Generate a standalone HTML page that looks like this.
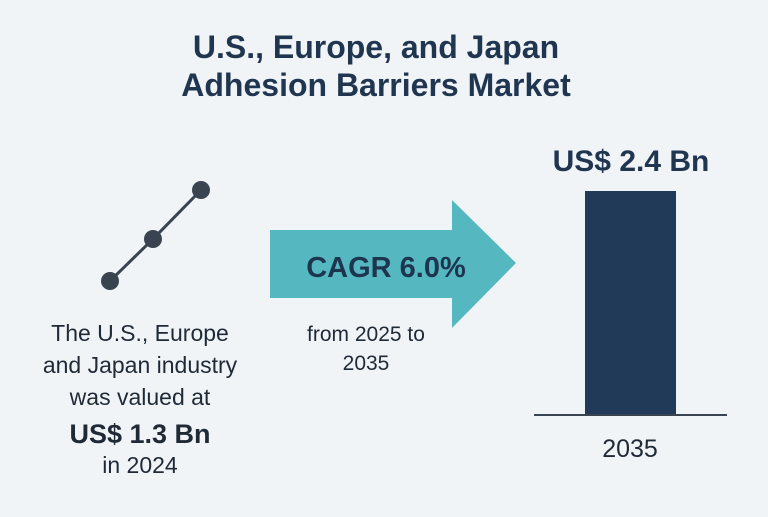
<!DOCTYPE html>
<html><head><meta charset="utf-8"><style>
body{margin:0;width:768px;height:512px;background:#f1f4f7;overflow:hidden;font-family:"Liberation Sans",sans-serif;}
svg text{font-family:"Liberation Sans",sans-serif;}
</style></head><body>
<svg width="768" height="512">
<g fill="#1f3550" font-weight="bold" font-size="32" text-anchor="middle">
<text x="376" y="58">U.S., Europe, and Japan</text>
<text x="376" y="96">Adhesion Barriers Market</text>
</g>
<g>
<polyline points="110,281 153,239 201,190" fill="none" stroke="#3a4450" stroke-width="3"/>
<circle cx="110" cy="281" r="9" fill="#3a4450"/>
<circle cx="153" cy="239" r="9" fill="#3a4450"/>
<circle cx="201" cy="190" r="9" fill="#3a4450"/>
</g>
<g fill="#1f2a36" font-size="23" text-anchor="middle">
<text x="140" y="341">The U.S., Europe</text>
<text x="140" y="373">and Japan industry</text>
<text x="140" y="405">was valued at</text>
<text x="140" y="443" font-weight="bold" font-size="27">US$ 1.3 Bn</text>
<text x="140" y="473">in 2024</text>
</g>
<polygon points="270,230 452,230 452,200 516,263 452,328 452,298 270,298" fill="#55b7c0"/>
<text x="386" y="277" text-anchor="middle" font-size="29" font-weight="bold" fill="#1e3550">CAGR 6.0%</text>
<g fill="#1f2a36" font-size="21" text-anchor="middle">
<text x="366" y="341">from 2025 to</text>
<text x="366" y="370">2035</text>
</g>
<g id="bars"></g>
<line x1="534" y1="415" x2="727" y2="415" stroke="#3a4450" stroke-width="2"/>
</svg>
<script>
const categories = ["2035"];
const values = [2.4];
const labels = ["US$ 2.4 Bn"];
const g = document.getElementById('bars');
const ns = 'http://www.w3.org/2000/svg';
const y = v => 415 - v * (224 / 2.4);
categories.forEach((c, i) => {
  const r = document.createElementNS(ns, 'rect');
  r.setAttribute('x', 585); r.setAttribute('width', 91);
  r.setAttribute('y', y(values[i])); r.setAttribute('height', 415 - y(values[i]));
  r.setAttribute('fill', '#213a58');
  
  
  g.appendChild(r);
  const t = document.createElementNS(ns, 'text');
  t.setAttribute('x', 631); t.setAttribute('y', y(values[i]) - 20);
  t.setAttribute('text-anchor', 'middle'); t.setAttribute('font-size', '30');
  t.setAttribute('font-weight', 'bold'); t.setAttribute('fill', '#1f3550');
  t.textContent = labels[i];
  
  
  g.appendChild(t);
  const c2 = document.createElementNS(ns, 'text');
  c2.setAttribute('x', 630); c2.setAttribute('y', 457);
  c2.setAttribute('text-anchor', 'middle'); c2.setAttribute('font-size', '25');
  c2.setAttribute('fill', '#1f2a36');
  c2.textContent = c;
  
  
  g.appendChild(c2);
});
</script>
</body></html>
